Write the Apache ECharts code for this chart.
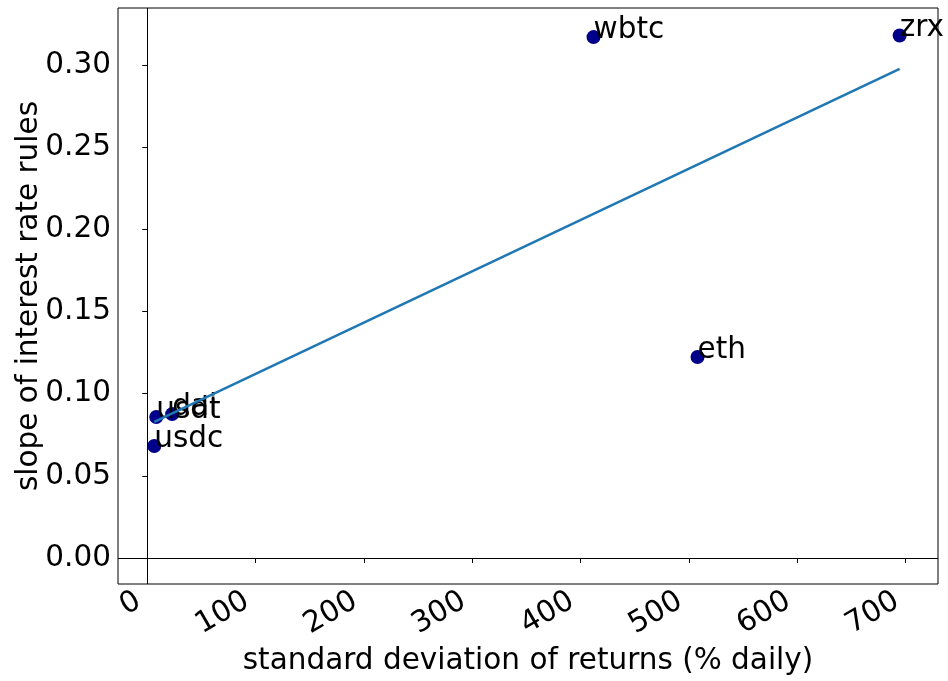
<!DOCTYPE html>
<html>
<head>
<meta charset="utf-8">
<script src="https://cdn.jsdelivr.net/npm/echarts@6/dist/echarts.min.js"></script>
<style>
    html, body { margin: 0; padding: 0; background: #fff; }
    #chart { width: 948px; height: 681px; }
</style>
</head>
<body>
<div id="chart"></div>
<script>
// tokens and values
var tokens = ['wbtc', 'zrx', 'eth', 'usdt', 'dai', 'usdc'];
var stdDev = [412, 694.6, 508, 8.3, 23, 6.5];
var slope = [0.317, 0.318, 0.1223, 0.0858, 0.0876, 0.0682];

// fitted line ends
var fitX = [6.5, 694.6];
var fitY = [0.0828, 0.2976];

var xTicks = [0, 100, 200, 300, 400, 500, 600, 700];
var yTicks = [0, 0.05, 0.1, 0.15, 0.2, 0.25, 0.3];

var font = 'DejaVu Sans';
var fs = 29.5;

var points = tokens.map(function (t, i) {
    return [stdDev[i], slope[i], t];
});
var fit = fitX.map(function (x, i) {
    return [x, fitY[i]];
});

var chart = echarts.init(document.getElementById('chart'));
chart.setOption({
    animation: false,
    textStyle: { fontFamily: font, color: '#000' },
    grid: {
        left: 118,
        right: 10,
        top: 8,
        bottom: 97,
        outerBoundsMode: 'none',
        containLabel: false,
        show: true,
        borderColor: '#000',
        borderWidth: 1
    },
    xAxis: {
        type: 'value',
        min: -27,
        max: 730,
        name: 'standard deviation of returns (% daily)',
        nameLocation: 'middle',
        nameGap: 62,
        nameMoveOverlap: false,
        nameTextStyle: { fontFamily: font, fontSize: fs, color: '#000' },
        axisLine: { show: false },
        splitLine: { show: false },
        axisTick: { show: true, length: 5, lineStyle: { color: '#000' }, customValues: xTicks },
        axisLabel: {
            customValues: xTicks,
            rotate: 30,
            margin: 10,
            padding: [0, 10, 0, 0],
            fontFamily: font,
            fontSize: fs,
            color: '#000'
        }
    },
    yAxis: {
        type: 'value',
        min: -0.0158,
        max: 0.3347,
        name: 'slope of interest rate rules',
        nameLocation: 'middle',
        nameGap: 74,
        nameMoveOverlap: false,
        nameTextStyle: { fontFamily: font, fontSize: fs, color: '#000' },
        axisLine: { show: false },
        splitLine: { show: false },
        axisTick: { show: true, length: 5, lineStyle: { color: '#000' }, customValues: yTicks },
        axisLabel: {
            customValues: yTicks,
            margin: 7,
            fontFamily: font,
            fontSize: fs,
            color: '#000',
            formatter: function (v) { return v.toFixed(2); }
        }
    },
    series: [
        {
            type: 'scatter',
            data: points,
            symbolSize: 14,
            itemStyle: { color: '#00008b', opacity: 1 },
            z: 2,
            label: {
                show: true,
                position: [7, 7],
                align: 'left',
                verticalAlign: 'bottom',
                offset: [0, 8],
                fontFamily: font,
                fontSize: fs,
                color: '#000',
                formatter: function (p) { return p.value[2]; }
            },
            markLine: {
                silent: true,
                symbol: 'none',
                label: { show: false },
                lineStyle: { color: '#000', width: 1, type: 'solid' },
                data: [{ xAxis: 0 }, { yAxis: 0 }]
            }
        },
        {
            type: 'line',
            data: fit,
            showSymbol: false,
            z: 3,
            lineStyle: { color: '#1f77b4', width: 2.5 }
        }
    ]
});
</script>
</body>
</html>
